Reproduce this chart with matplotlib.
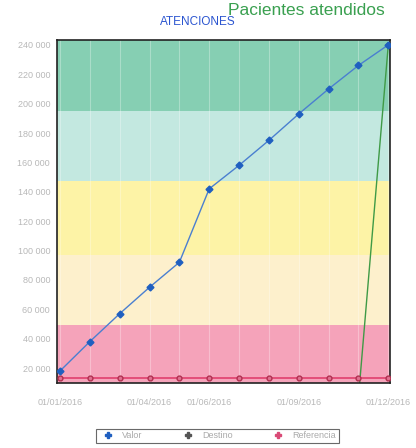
import matplotlib
matplotlib.use("Agg")
import matplotlib.pyplot as plt
from matplotlib.lines import Line2D

plt.rcParams["font.family"] = ["Liberation Sans", "DejaVu Sans"]

months = ["01/01/2016", "01/02/2016", "01/03/2016", "01/04/2016", "01/05/2016", "01/06/2016",
          "01/07/2016", "01/08/2016", "01/09/2016", "01/10/2016", "01/11/2016", "01/12/2016"]
valor = [18000, 38000, 57000, 75000, 92000, 142000, 158000, 175000, 193000, 210000, 226000, 240000]
destino = [0, 0, 0, 0, 0, 0, 0, 0, 0, 0, 0, 240000]
referencia = [13000] * 12
tick_idx = [0, 3, 5, 8, 11]
y_ticks = [20000, 40000, 60000, 80000, 100000, 120000, 140000, 160000, 180000, 200000, 220000, 240000]
bands = [(0, 49000, "#f5a3ba"), (49000, 97000, "#fdf0cc"), (97000, 147000, "#fdf3a6"),
         (147000, 195000, "#c3e8e0"), (195000, 260000, "#86cfb3")]

fig = plt.figure(figsize=(4.16, 4.48), dpi=100)
ax = fig.add_axes([0.137, 0.145, 0.8, 0.766])

for lo, hi, c in bands:
    ax.axhspan(lo, hi, color=c, zorder=0, lw=0)
for i in range(len(months)):
    ax.axvline(i, color="white", lw=0.8, alpha=0.3, zorder=0.5)

x = list(range(len(months)))
ax.plot(x, destino, color="#3f9a46", lw=1.0, marker="D", ms=3, mfc="#555555", mec="#555555", zorder=2)
ax.plot(x, referencia, color="#e0406e", lw=1.2, marker="o", ms=3.5, mfc="#e07090", mec="#b03050", zorder=3)
ax.plot(x, valor, color="#4a7fd0", lw=1.0, marker="D", ms=3.5, mfc="#1f5fc0", mec="#1f5fc0", zorder=4)

ax.set_xlim(-0.1, 11.05)
ax.set_ylim(9800, 243400)
ax.set_yticks(y_ticks)
ax.set_yticklabels([f"{v:,}".replace(",", " ") for v in y_ticks])
ax.set_xticks(tick_idx)
ax.set_xticklabels([months[i] for i in tick_idx])
ax.tick_params(axis="y", labelsize=6.5, colors="#b8b8b8", length=0, pad=5)
ax.tick_params(axis="x", labelsize=6.5, colors="#b8b8b8", length=0, pad=11)
for s in ax.spines.values():
    s.set_color("#222222")
    s.set_linewidth(1.2)

fig.text(0.548, 0.976, "Pacientes atendidos", color="#3aa050", fontsize=12.5, ha="left", va="center")
fig.text(0.475, 0.952, "ATENCIONES", color="#2b55d0", fontsize=8.5, ha="center", va="center")

handles = [Line2D([], [], ls="none", marker="P", color="#1f5fc0", ms=5),
           Line2D([], [], ls="none", marker="P", color="#555555", ms=5),
           Line2D([], [], ls="none", marker="P", color="#d94a76", ms=5)]
leg = fig.legend(handles, ["Valor", "Destino", "Referencia"], loc="center", bbox_to_anchor=(0.523, 0.027),
                 ncol=3, fontsize=6.5, frameon=True, fancybox=False, handletextpad=0.6, columnspacing=4.0,
                 borderpad=0.3)
leg.get_frame().set_edgecolor("#444444")
leg.get_frame().set_linewidth(0.8)
for t in leg.get_texts():
    t.set_color("#aaaaaa")

fig.savefig("out.png", dpi=100)
